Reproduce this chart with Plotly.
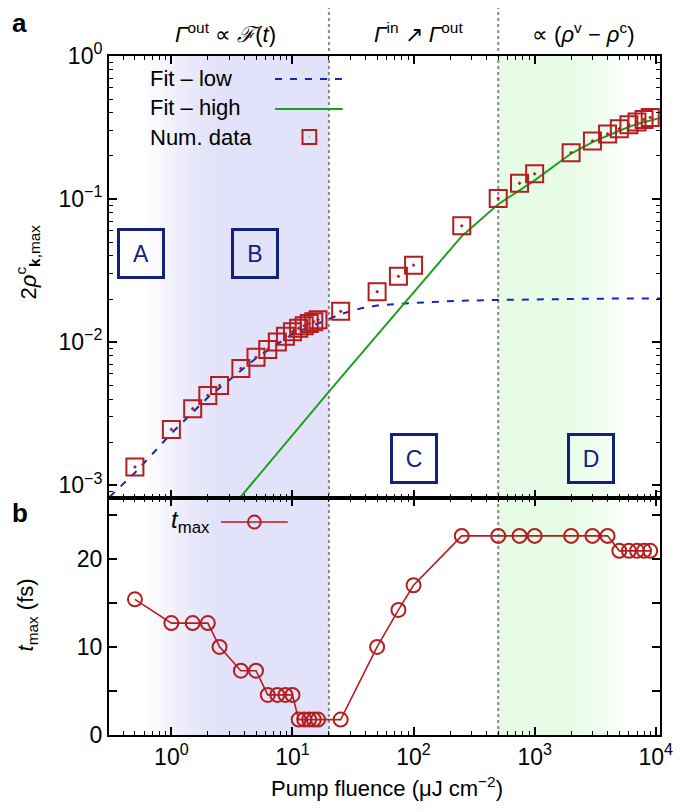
import plotly.graph_objects as go
import math

# ---------------- data ----------------
fluence = [0.5, 1, 1.5, 2, 2.5, 3.75, 5, 6.25, 7.5, 8.75, 10, 11.25, 12.5, 13.75, 15, 16.25,
           25, 50, 75, 100, 250, 500, 750, 1000, 2000, 3000, 4000, 5000, 6000, 7000, 8000, 9000]
rho_num = [1.34e-3, 2.45e-3, 3.42e-3, 4.24e-3, 4.98e-3, 6.54e-3, 7.82e-3, 8.89e-3, 1.00e-2, 1.10e-2,
           1.18e-2, 1.25e-2, 1.30e-2, 1.35e-2, 1.39e-2, 1.43e-2,
           1.64e-2, 2.25e-2, 2.88e-2, 3.45e-2, 6.5e-2, 0.101, 0.129, 0.150, 0.211, 0.255, 0.285,
           0.31, 0.33, 0.345, 0.36, 0.372]
t_max = [15.4, 12.7, 12.7, 12.7, 10.0, 7.3, 7.3, 4.55, 4.55, 4.55, 4.55, 1.75, 1.75, 1.75, 1.75, 1.75,
         1.75, 10.0, 14.2, 17.0, 22.6, 22.6, 22.6, 22.6, 22.6, 22.6, 22.6, 20.9, 20.9, 20.9, 20.9, 20.9]

fit_low_F = [0.31, 0.5, 1, 2, 5, 10, 20, 25, 37.6, 50, 90, 215, 500, 1000, 3000, 11000]
fit_low_rho = [8.3e-4, 1.22e-3, 2.3e-3, 4.1e-3, 7.7e-3, 1.14e-2, 1.45e-2, 1.57e-2, 1.73e-2, 1.80e-2,
               1.87e-2, 1.94e-2, 1.97e-2, 1.99e-2, 2.01e-2, 2.02e-2]
fit_high_F = [3.75, 10, 20, 50, 100, 250, 500, 1000, 2000, 3000, 5000, 7000, 11000]
fit_high_rho = [8.3e-4, 2.25e-3, 4.5e-3, 1.12e-2, 2.22e-2, 5.5e-2, 0.092, 0.135, 0.208, 0.25, 0.30, 0.335, 0.37]

x_tickvals = [1, 10, 100, 1000, 10000]
x_ticktext = ["10<sup>0</sup>", "10<sup>1</sup>", "10<sup>2</sup>", "10<sup>3</sup>", "10<sup>4</sup>"]
y_tickvals = [1e-3, 1e-2, 1e-1, 1]
y_ticktext = ["10<sup>−3</sup>", "10<sup>−2</sup>", "10<sup>−1</sup>", "10<sup>0</sup>"]
t_tickvals = [0, 5, 10, 15, 20, 25]
t_ticktext = ["0", "", "10", "", "20", ""]
region_bounds = [20, 500]

# ---------------- layout geometry (window pixel coords; page body has 8px margin) ----------------
OFF = 8
PLOT_L, PLOT_R, PLOT_T, PLOT_B = 109, 670, 56, 735
W, H = 685 - OFF, 812 - OFF
L = PLOT_L - OFF
T = PLOT_T - OFF
R = (OFF + W) - PLOT_R
B = (OFF + H) - PLOT_B
PW, PH = PLOT_R - PLOT_L, PLOT_B - PLOT_T
XMIN, XMAX = -0.515, 4.035


def px(x):
    return (x - PLOT_L) / PW


def py(y):
    return (PLOT_B - y) / PH


def lx(logf):
    return (logf - XMIN) / (XMAX - XMIN)


split = py(498)

RED = "#B41E1E"
BLUE = "#1428B4"
GREEN = "#1EA01E"
NAVY = "#14207E"
FONT = "Liberation Sans, Arial, Helvetica, sans-serif"

fig = go.Figure()

fig.add_trace(go.Scatter(x=fit_low_F, y=fit_low_rho, mode="lines",
                         line=dict(color=BLUE, width=2, dash="7px,8px"),
                         xaxis="x", yaxis="y", showlegend=False))
fig.add_trace(go.Scatter(x=fit_high_F, y=fit_high_rho, mode="lines",
                         line=dict(color=GREEN, width=2),
                         xaxis="x", yaxis="y", showlegend=False))
fig.add_trace(go.Scatter(x=fluence, y=rho_num, mode="markers",
                         marker=dict(symbol="square-open-dot", size=17, color=RED,
                                     line=dict(width=2, color=RED)),
                         xaxis="x", yaxis="y", showlegend=False))
fig.add_trace(go.Scatter(x=fluence, y=t_max, mode="lines+markers",
                         line=dict(color=RED, width=1.6),
                         marker=dict(symbol="circle-open", size=14, color=RED,
                                     line=dict(width=2, color=RED)),
                         xaxis="x2", yaxis="y2", showlegend=False))

shapes = []
# blue gradient region
BLUE_RGB = (226, 226, 250)
g0, g1 = -0.22, 0.35
N = 40
for i in range(N):
    a0 = g0 + (g1 - g0) * i / N
    a1 = g0 + (g1 - g0) * (i + 1) / N
    alpha = (i + 0.5) / N
    shapes.append(dict(type="rect", xref="x domain", yref="paper", x0=lx(a0), x1=lx(a1) + 0.001,
                       y0=0, y1=1, fillcolor="rgba(%d,%d,%d,%.3f)" % (BLUE_RGB + (alpha,)),
                       line=dict(width=0), layer="below"))
shapes.append(dict(type="rect", xref="x domain", yref="paper", x0=lx(g1), x1=lx(math.log10(region_bounds[0])),
                   y0=0, y1=1, fillcolor="rgb(%d,%d,%d)" % BLUE_RGB, line=dict(width=0), layer="below"))
# green gradient region
GREEN_RGB = (230, 252, 230)
h0, h1 = 3.25, 3.78
shapes.append(dict(type="rect", xref="x domain", yref="paper", x0=lx(math.log10(region_bounds[1])), x1=lx(h0),
                   y0=0, y1=1, fillcolor="rgb(%d,%d,%d)" % GREEN_RGB, line=dict(width=0), layer="below"))
for i in range(N):
    a0 = h0 + (h1 - h0) * i / N
    a1 = h0 + (h1 - h0) * (i + 1) / N
    alpha = 1 - (i + 0.5) / N
    shapes.append(dict(type="rect", xref="x domain", yref="paper", x0=lx(a0) - 0.001, x1=lx(a1),
                       y0=0, y1=1, fillcolor="rgba(%d,%d,%d,%.3f)" % (GREEN_RGB + (alpha,)),
                       line=dict(width=0), layer="below"))
# dotted region boundaries (extend up through the header)
for b in region_bounds:
    shapes.append(dict(type="line", xref="x domain", yref="paper", x0=lx(math.log10(b)), x1=lx(math.log10(b)),
                       y0=0, y1=py(OFF), line=dict(color="#8a8a8a", width=2, dash="dot"), layer="below"))

# legend graphics (top panel)
shapes.append(dict(type="line", xref="paper", yref="paper", x0=px(278), x1=px(347), y0=py(79), y1=py(79),
                   line=dict(color=BLUE, width=2, dash="7px,8px")))
shapes.append(dict(type="line", xref="paper", yref="paper", x0=px(278), x1=px(347), y0=py(109), y1=py(109),
                   line=dict(color=GREEN, width=2)))
shapes.append(dict(type="rect", xref="paper", yref="paper", x0=px(306), x1=px(320), y0=py(144), y1=py(130),
                   line=dict(color=RED, width=2)))
shapes.append(dict(type="rect", xref="paper", yref="paper", x0=px(312.5), x1=px(313.5), y0=py(137.5), y1=py(136.5),
                   line=dict(color=RED, width=0), fillcolor=RED))
# legend graphics (bottom panel)
shapes.append(dict(type="line", xref="paper", yref="paper", x0=px(223), x1=px(291), y0=py(522), y1=py(522),
                   line=dict(color=RED, width=1.6)))
shapes.append(dict(type="circle", xref="paper", yref="paper", x0=px(250.5), x1=px(263.5), y0=py(528.5), y1=py(515.5),
                   line=dict(color=RED, width=2), fillcolor="rgba(0,0,0,0)"))

annotations = []


def ann(text, x, y, size=20, xanchor="center", yanchor="middle", **kw):
    color = kw.pop("color", "black")
    annotations.append(dict(text=text, x=px(x), y=py(y), xref="paper", yref="paper", showarrow=False,
                            xanchor=xanchor, yanchor=yanchor, font=dict(family=FONT, size=size, color=color), **kw))


ann("<b>a</b>", 18, 23, size=26)
ann("<b>b</b>", 18, 513, size=26)
ann("<i>Γ</i><sup>out</sup> ∝ <i>ℱ</i>(<i>t</i>)", 228, 33, size=22)
ann("<i>Γ</i><sup>in</sup> ↗ <i>Γ</i><sup>out</sup>", 424, 33, size=22)
ann("∝ (<i>ρ</i><sup>v</sup> − <i>ρ</i><sup>c</sup>)", 592, 33, size=22)
ann("Fit – low", 149, 78, size=22, xanchor="left")
ann("Fit – high", 149, 108, size=22, xanchor="left")
ann("Num. data", 149, 137, size=22, xanchor="left")
ann("<i>t</i><sub>max</sub>", 214, 521, size=24, xanchor="right")
ann("2<i>ρ</i><sup>c</sup><sub><b>k</b>,max</sub>", 26, 262, size=22, textangle=-90)
ann("<i>t</i><sub>max</sub> (fs)", 26, 615, size=22, textangle=-90)
ann("Pump fluence (μJ cm<sup>−2</sup>)", 392, 787, size=22)
for letter, cx, cy in [("A", 141.5, 254), ("B", 257.5, 254), ("C", 420, 458), ("D", 600, 458)]:
    ann(letter, cx, cy, size=23, color=NAVY, bordercolor=NAVY, borderwidth=3, borderpad=0, width=42, height=45)

x_minor = [k * 10 ** d for d in range(-1, 4) for k in range(2, 10)]
y_minor = [k * 10 ** d for d in range(-4, 0) for k in range(2, 10)]

axis_common = dict(showline=True, linewidth=2, linecolor="black", mirror="ticks", ticks="inside",
                   ticklen=8, tickwidth=1.5, tickcolor="black", showgrid=False, zeroline=False,
                   ticklabeloverflow="allow",
                   tickfont=dict(family=FONT, size=23, color="black"))

fig.update_layout(
    width=W, height=H, autosize=False,
    margin=dict(l=L, r=R, t=T, b=B, pad=0),
    paper_bgcolor="white", plot_bgcolor="rgba(0,0,0,0)",
    showlegend=False,
    xaxis=dict(type="log", range=[XMIN, XMAX], anchor="y", matches="x2", showticklabels=False,
               tickvals=x_tickvals, ticktext=x_ticktext,
               minor=dict(tickvals=x_minor, ticks="inside", ticklen=4, tickwidth=1.2, tickcolor="black"),
               **axis_common),
    xaxis2=dict(type="log", range=[XMIN, XMAX], anchor="y2",
                tickvals=x_tickvals, ticktext=x_ticktext,
                minor=dict(tickvals=x_minor, ticks="inside", ticklen=4, tickwidth=1.2, tickcolor="black"),
                **axis_common),
    yaxis=dict(type="log", range=[-3.09, 0], domain=[split, 1], anchor="x",
               tickvals=y_tickvals, ticktext=y_ticktext,
               minor=dict(tickvals=y_minor, ticks="inside", ticklen=4, tickwidth=1.2, tickcolor="black"),
               **axis_common),
    yaxis2=dict(range=[0, 26.9], domain=[0, split], anchor="x2",
                tickvals=t_tickvals, ticktext=t_ticktext, **axis_common),
    shapes=shapes,
    annotations=annotations,
)

fig.write_html("out.html")
